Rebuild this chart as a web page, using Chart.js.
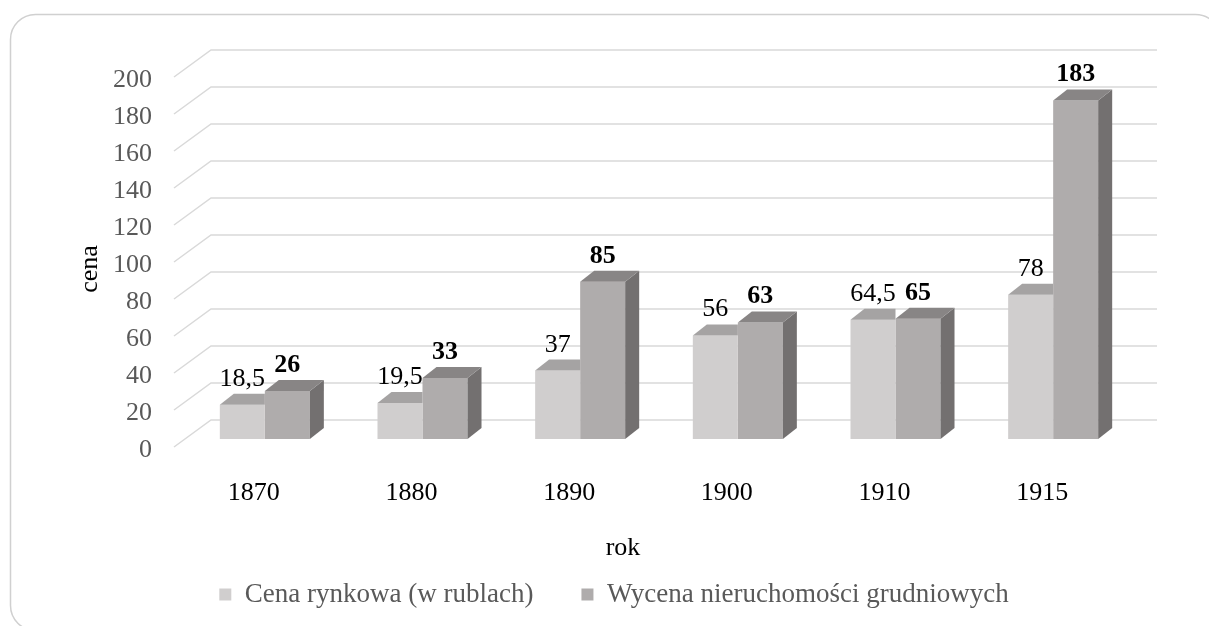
<!DOCTYPE html>
<html>
<head>
<meta charset="utf-8">
<script src="https://cdn.jsdelivr.net/npm/chart.js@4.4.1/dist/chart.umd.min.js"></script>
<style>
    html, body { margin: 0; padding: 0; background: #fff; }
</style>
</head>
<body>
<canvas id="myChart" width="1209" height="626"></canvas>

<script>
    const lata = ['1870', '1880', '1890', '1900', '1910', '1915'];
    const cenaRynkowa = [18.5, 19.5, 37, 56, 64.5, 78];
    const wycena = [26, 33, 85, 63, 65, 183];
    const yTicks = [0, 20, 40, 60, 80, 100, 120, 140, 160, 180, 200];
    const nazwySerii = ['Cena rynkowa (w rublach)', 'Wycena nieruchomości grudniowych'];

    const kolorPrzod = ['#D0CECE', '#AFACAC'];
    const kolorGora = ['#A5A3A3', '#888585'];
    const kolorBok = ['#8E8C8C', '#737070'];

    const czcionka = '"Liberation Serif", "Times New Roman", serif';

    // glebokosc slupka i przesuniecie scian (przod / tyl) wzgledem plaszczyzny slupkow
    const dx = 14, dy = -11;
    const przodX = -12, przodY = 8;
    const tylX = 25, tylY = -19;

    const liczba = v => String(v).replace('.', ',');

    // gorna i boczna sciana jednego slupka
    function scianki(ctx, el, i, przyciecie) {
        const {x, y, width, base} = el.getProps(['x', 'y', 'width', 'base'], true);
        const l = x - width / 2, r = x + width / 2;
        if (!przyciecie) {
            ctx.fillStyle = kolorBok[i];
            ctx.beginPath();
            ctx.moveTo(r, y);
            ctx.lineTo(r + dx, y + dy);
            ctx.lineTo(r + dx, base + dy);
            ctx.lineTo(r, base);
            ctx.closePath();
            ctx.fill();
        }
        ctx.save();
        if (przyciecie) {
            ctx.beginPath();
            ctx.rect(l - 1, y + dy - 2, width + 1, -dy + 4);
            ctx.clip();
        }
        ctx.fillStyle = kolorGora[i];
        ctx.beginPath();
        ctx.moveTo(l, y);
        ctx.lineTo(l + dx, y + dy);
        ctx.lineTo(r + dx, y + dy);
        ctx.lineTo(r, y);
        ctx.closePath();
        ctx.fill();
        ctx.restore();
    }

    const bryla = {
        id: 'bryla',
        beforeDraw(chart) {
            const ctx = chart.ctx;
            ctx.save();
            ctx.strokeStyle = '#D0D0D0';
            ctx.lineWidth = 1.5;
            ctx.beginPath();
            ctx.roundRect(10.5, 14.5, 1210, 616, 25);
            ctx.stroke();
            ctx.restore();
        },
        beforeDatasetsDraw(chart) {
            const {ctx, chartArea: a, scales: {y}} = chart;
            ctx.save();
            ctx.strokeStyle = '#D9D9D9';
            ctx.lineWidth = 1.5;
            yTicks.forEach(v => {
                const py = y.getPixelForValue(v);
                ctx.beginPath();
                ctx.moveTo(a.left + przodX, py + przodY);
                ctx.lineTo(a.left + tylX, py + tylY);
                ctx.lineTo(a.right + tylX, py + tylY);
                ctx.stroke();
            });
            ctx.restore();
        },
        // seria 1 rysowana jest przed seria 0, wiec bok serii 0 chowa sie za slupkiem obok
        afterDatasetDraw(chart, args) {
            const i = args.index;
            const ctx = chart.ctx;
            const sasiad = chart.data.datasets[1].data;
            ctx.save();
            args.meta.data.forEach((el, j) => {
                const zaslonieta = i === 0 && sasiad[j] >= chart.data.datasets[0].data[j];
                scianki(ctx, el, i, zaslonieta);
            });
            ctx.restore();
        },
        afterDatasetsDraw(chart) {
            const ctx = chart.ctx;
            ctx.save();
            ctx.fillStyle = '#000';
            ctx.textAlign = 'center';
            ctx.textBaseline = 'alphabetic';
            chart.data.datasets.forEach((ds, i) => {
                ctx.font = (i === 1 ? 'bold ' : '') + '26px ' + czcionka;
                chart.getDatasetMeta(i).data.forEach((el, j) => {
                    ctx.fillText(liczba(ds.data[j]), el.x, el.y + dy - 8);
                });
            });

            // tytuly osi
            ctx.font = '26px ' + czcionka;
            ctx.textBaseline = 'middle';
            ctx.fillText('rok', 623, 548);
            ctx.translate(90, 269);
            ctx.rotate(-Math.PI / 2);
            ctx.fillText('cena', 0, 0);
            ctx.restore();
        }
    };

    const myChart = new Chart('myChart', {
        type: 'bar',
        data: {
            labels: lata,
            datasets: [{
                label: nazwySerii[0],
                data: cenaRynkowa,
                backgroundColor: kolorPrzod[0],
                borderWidth: 0
            }, {
                label: nazwySerii[1],
                data: wycena,
                backgroundColor: kolorPrzod[1],
                borderWidth: 0
            }]
        },
        options: {
            responsive: false,
            animation: false,
            events: [],
            datasets: {
                bar: {categoryPercentage: 0.571, barPercentage: 1}
            },
            layout: {padding: {left: 19, top: 69, right: 0, bottom: 8}},
            scales: {
                x: {
                    grid: {display: false, drawTicks: false},
                    border: {display: false},
                    ticks: {
                        color: '#000',
                        font: {family: czcionka, size: 26},
                        labelOffset: -11,
                        padding: 39
                    },
                    afterFit(s) { s.height = 94; }
                },
                y: {
                    min: 0,
                    max: 200,
                    grid: {display: false, drawTicks: false},
                    border: {display: false},
                    ticks: {
                        stepSize: 20,
                        color: '#595959',
                        font: {family: czcionka, size: 26},
                        labelOffset: 11,
                        padding: 34
                    },
                    afterFit(s) { s.width = 167; }
                },
                prawa: {
                    position: 'right',
                    grid: {display: false, drawTicks: false},
                    border: {display: false},
                    ticks: {display: false},
                    afterFit(s) { s.width = 77; }
                }
            },
            plugins: {
                tooltip: {enabled: false},
                legend: {
                    position: 'bottom',
                    labels: {
                        color: '#595959',
                        font: {family: czcionka, size: 27},
                        boxWidth: 12,
                        boxHeight: 12,
                        padding: 48
                    }
                }
            }
        },
        plugins: [bryla]
    });
</script>
</body>
</html>
